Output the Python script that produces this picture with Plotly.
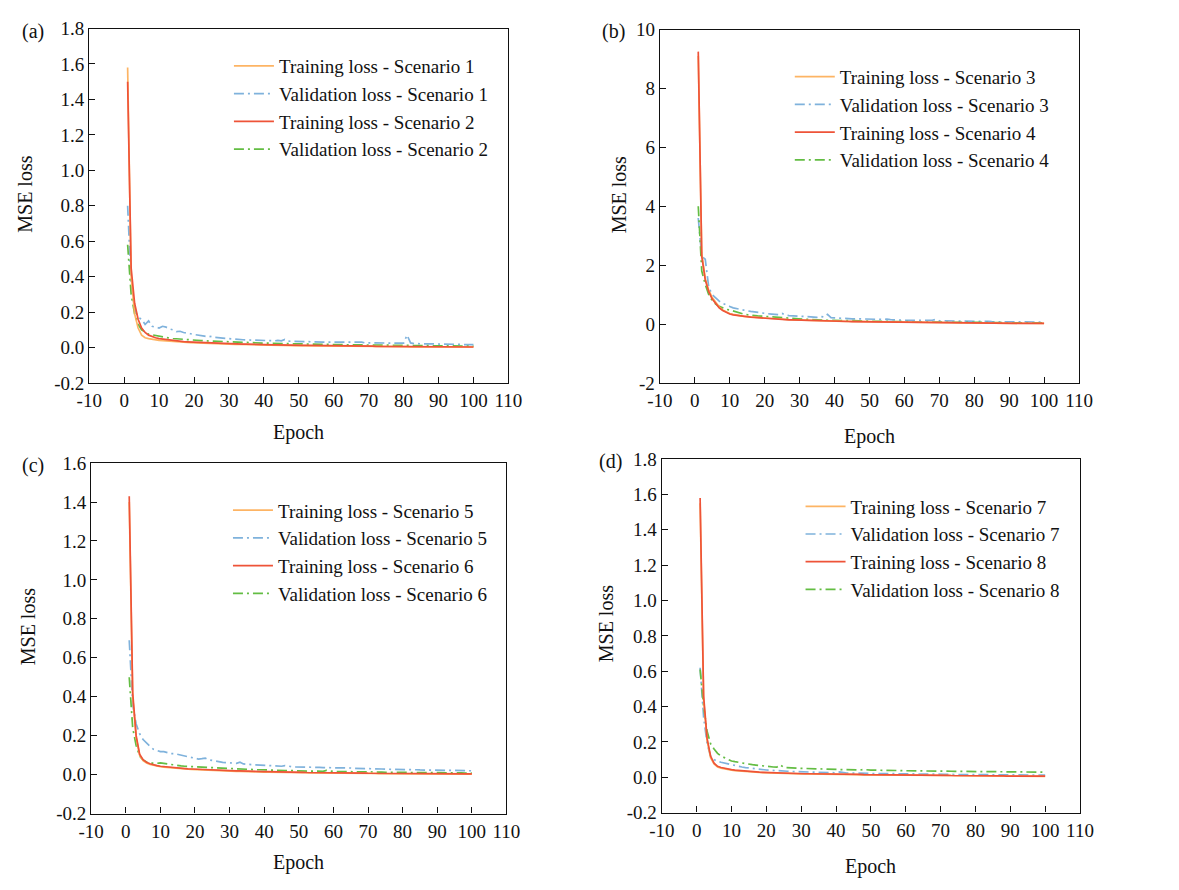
import plotly.graph_objects as go

# ---------------- data ----------------
epochs = list(range(1, 101))

# (a) scenarios 1 and 2
train_s1 = [1.58, 0.40, 0.19, 0.11, 0.070, 0.055, 0.050, 0.046, 0.043, 0.041,
            0.039, 0.037, 0.035, 0.034, 0.033, 0.031, 0.030, 0.029, 0.028, 0.027,
            0.026, 0.025, 0.024, 0.024, 0.023, 0.022, 0.021, 0.021, 0.020, 0.019,
            0.019, 0.018, 0.018, 0.017, 0.017, 0.016, 0.016, 0.015, 0.015, 0.014,
            0.014, 0.014, 0.013, 0.013, 0.012, 0.012, 0.012, 0.011, 0.011, 0.011,
            0.010, 0.010, 0.010, 0.010, 0.009, 0.009, 0.009, 0.009, 0.008, 0.008,
            0.008, 0.008, 0.008, 0.007, 0.007, 0.007, 0.007, 0.007, 0.006, 0.006,
            0.006, 0.006, 0.006, 0.006, 0.005, 0.005, 0.005, 0.005, 0.005, 0.005,
            0.005, 0.004, 0.004, 0.004, 0.004, 0.004, 0.004, 0.004, 0.004, 0.003,
            0.003, 0.003, 0.003, 0.003, 0.003, 0.003, 0.003, 0.003, 0.003, 0.003]
val_s1 = [0.80, 0.36, 0.22, 0.17, 0.16, 0.13, 0.15, 0.12, 0.115, 0.11,
          0.12, 0.115, 0.105, 0.10, 0.09, 0.092, 0.085, 0.083, 0.078, 0.074,
          0.072, 0.066, 0.064, 0.060, 0.063, 0.057, 0.055, 0.052, 0.050, 0.050,
          0.048, 0.047, 0.046, 0.044, 0.043, 0.042, 0.041, 0.041, 0.040, 0.040,
          0.039, 0.039, 0.038, 0.040, 0.038, 0.046, 0.036, 0.035, 0.035, 0.034,
          0.034, 0.033, 0.033, 0.032, 0.032, 0.031, 0.031, 0.030, 0.030, 0.029,
          0.029, 0.029, 0.028, 0.028, 0.030, 0.027, 0.027, 0.031, 0.026, 0.026,
          0.025, 0.025, 0.025, 0.024, 0.026, 0.024, 0.023, 0.024, 0.023, 0.025,
          0.070, 0.026, 0.022, 0.022, 0.021, 0.021, 0.021, 0.020, 0.020, 0.020,
          0.019, 0.019, 0.019, 0.018, 0.022, 0.018, 0.017, 0.017, 0.017, 0.016]
train_s2 = [1.50, 0.45, 0.25, 0.16, 0.11, 0.085, 0.070, 0.061, 0.055, 0.050,
            0.047, 0.044, 0.041, 0.039, 0.037, 0.035, 0.033, 0.032, 0.031, 0.030,
            0.029, 0.028, 0.027, 0.026, 0.025, 0.024, 0.023, 0.023, 0.022, 0.021,
            0.021, 0.020, 0.020, 0.019, 0.019, 0.018, 0.018, 0.017, 0.017, 0.016,
            0.016, 0.016, 0.015, 0.015, 0.014, 0.014, 0.014, 0.013, 0.013, 0.013,
            0.012, 0.012, 0.012, 0.011, 0.011, 0.011, 0.011, 0.010, 0.010, 0.010,
            0.010, 0.009, 0.009, 0.009, 0.009, 0.009, 0.008, 0.008, 0.008, 0.008,
            0.008, 0.007, 0.007, 0.007, 0.007, 0.007, 0.007, 0.006, 0.006, 0.006,
            0.006, 0.006, 0.006, 0.005, 0.005, 0.005, 0.005, 0.005, 0.005, 0.005,
            0.004, 0.004, 0.004, 0.004, 0.004, 0.004, 0.004, 0.004, 0.003, 0.003]
val_s2 = [0.58, 0.30, 0.19, 0.13, 0.10, 0.085, 0.075, 0.072, 0.068, 0.062,
          0.058, 0.056, 0.053, 0.051, 0.049, 0.047, 0.046, 0.044, 0.043, 0.042,
          0.040, 0.039, 0.038, 0.037, 0.036, 0.035, 0.034, 0.033, 0.032, 0.031,
          0.031, 0.030, 0.029, 0.029, 0.028, 0.027, 0.027, 0.026, 0.026, 0.025,
          0.025, 0.024, 0.024, 0.023, 0.023, 0.022, 0.022, 0.021, 0.021, 0.021,
          0.020, 0.020, 0.019, 0.019, 0.019, 0.018, 0.018, 0.018, 0.017, 0.017,
          0.017, 0.016, 0.016, 0.016, 0.015, 0.015, 0.015, 0.015, 0.014, 0.014,
          0.014, 0.014, 0.016, 0.013, 0.013, 0.013, 0.013, 0.012, 0.012, 0.012,
          0.012, 0.012, 0.011, 0.011, 0.011, 0.011, 0.011, 0.010, 0.010, 0.010,
          0.010, 0.010, 0.009, 0.009, 0.009, 0.009, 0.009, 0.009, 0.008, 0.008]

# (b) scenarios 3 and 4
train_s3 = [9.10, 2.40, 1.55, 1.15, 0.90, 0.72, 0.58, 0.48, 0.41, 0.36,
            0.33, 0.30, 0.28, 0.26, 0.25, 0.24, 0.23, 0.22, 0.21, 0.20,
            0.19, 0.185, 0.178, 0.170, 0.163, 0.156, 0.150, 0.145, 0.140, 0.135,
            0.130, 0.126, 0.122, 0.118, 0.114, 0.111, 0.108, 0.105, 0.102, 0.099,
            0.096, 0.094, 0.092, 0.090, 0.088, 0.086, 0.084, 0.082, 0.080, 0.078,
            0.076, 0.074, 0.072, 0.070, 0.068, 0.066, 0.064, 0.062, 0.060, 0.058,
            0.056, 0.055, 0.054, 0.053, 0.052, 0.051, 0.050, 0.049, 0.048, 0.047,
            0.046, 0.045, 0.044, 0.043, 0.042, 0.041, 0.040, 0.039, 0.038, 0.037,
            0.036, 0.035, 0.034, 0.033, 0.032, 0.031, 0.030, 0.029, 0.028, 0.027,
            0.026, 0.026, 0.025, 0.025, 0.024, 0.024, 0.023, 0.023, 0.022, 0.022]
val_s3 = [3.60, 2.30, 2.20, 1.25, 1.00, 0.88, 0.78, 0.70, 0.64, 0.60,
          0.55, 0.52, 0.50, 0.47, 0.45, 0.43, 0.41, 0.39, 0.37, 0.36,
          0.35, 0.34, 0.33, 0.32, 0.36, 0.30, 0.29, 0.28, 0.27, 0.26,
          0.26, 0.25, 0.24, 0.24, 0.23, 0.26, 0.24, 0.33, 0.22, 0.21,
          0.20, 0.20, 0.19, 0.19, 0.18, 0.18, 0.18, 0.17, 0.17, 0.17,
          0.16, 0.16, 0.16, 0.15, 0.17, 0.15, 0.14, 0.14, 0.14, 0.13,
          0.13, 0.13, 0.13, 0.12, 0.12, 0.12, 0.12, 0.13, 0.16, 0.11,
          0.11, 0.11, 0.11, 0.10, 0.10, 0.10, 0.10, 0.10, 0.09, 0.09,
          0.09, 0.09, 0.09, 0.09, 0.08, 0.08, 0.08, 0.08, 0.09, 0.08,
          0.08, 0.08, 0.07, 0.07, 0.07, 0.07, 0.07, 0.07, 0.07, 0.06]
train_s4 = [9.25, 2.30, 1.50, 1.10, 0.85, 0.68, 0.55, 0.46, 0.39, 0.34,
            0.31, 0.29, 0.27, 0.255, 0.245, 0.235, 0.225, 0.215, 0.205, 0.195,
            0.185, 0.178, 0.170, 0.163, 0.156, 0.150, 0.145, 0.140, 0.135, 0.130,
            0.126, 0.122, 0.118, 0.114, 0.111, 0.108, 0.105, 0.102, 0.099, 0.096,
            0.094, 0.092, 0.090, 0.088, 0.086, 0.084, 0.082, 0.080, 0.078, 0.076,
            0.074, 0.072, 0.070, 0.068, 0.066, 0.064, 0.062, 0.060, 0.058, 0.056,
            0.055, 0.054, 0.053, 0.052, 0.051, 0.050, 0.049, 0.048, 0.047, 0.046,
            0.045, 0.044, 0.043, 0.042, 0.041, 0.040, 0.039, 0.038, 0.037, 0.036,
            0.035, 0.034, 0.033, 0.032, 0.031, 0.030, 0.029, 0.028, 0.027, 0.026,
            0.026, 0.025, 0.025, 0.024, 0.024, 0.023, 0.023, 0.022, 0.022, 0.021]
val_s4 = [4.00, 1.80, 1.35, 1.00, 0.80, 0.68, 0.60, 0.55, 0.50, 0.48,
          0.44, 0.40, 0.37, 0.34, 0.32, 0.30, 0.29, 0.28, 0.27, 0.26,
          0.25, 0.24, 0.23, 0.22, 0.21, 0.20, 0.19, 0.19, 0.18, 0.17,
          0.17, 0.16, 0.16, 0.15, 0.15, 0.14, 0.14, 0.13, 0.13, 0.13,
          0.12, 0.12, 0.12, 0.11, 0.11, 0.11, 0.11, 0.10, 0.10, 0.10,
          0.10, 0.09, 0.09, 0.09, 0.09, 0.09, 0.08, 0.08, 0.08, 0.08,
          0.08, 0.08, 0.07, 0.07, 0.07, 0.07, 0.07, 0.07, 0.07, 0.06,
          0.06, 0.06, 0.06, 0.06, 0.06, 0.06, 0.06, 0.05, 0.05, 0.05,
          0.05, 0.05, 0.05, 0.05, 0.05, 0.05, 0.05, 0.05, 0.04, 0.04,
          0.04, 0.04, 0.04, 0.04, 0.04, 0.04, 0.04, 0.04, 0.04, 0.04]

# (c) scenarios 5 and 6
train_s5 = [1.40, 0.40, 0.19, 0.10, 0.072, 0.060, 0.053, 0.048, 0.044, 0.041,
            0.039, 0.037, 0.035, 0.033, 0.032, 0.030, 0.029, 0.028, 0.027, 0.026,
            0.025, 0.024, 0.023, 0.022, 0.022, 0.021, 0.020, 0.020, 0.019, 0.018,
            0.018, 0.017, 0.017, 0.016, 0.016, 0.015, 0.015, 0.014, 0.014, 0.013,
            0.013, 0.013, 0.012, 0.012, 0.012, 0.011, 0.011, 0.011, 0.010, 0.010,
            0.010, 0.010, 0.009, 0.009, 0.009, 0.009, 0.008, 0.008, 0.008, 0.008,
            0.008, 0.007, 0.007, 0.007, 0.007, 0.007, 0.006, 0.006, 0.006, 0.006,
            0.006, 0.006, 0.005, 0.005, 0.005, 0.005, 0.005, 0.005, 0.005, 0.004,
            0.004, 0.004, 0.004, 0.004, 0.004, 0.004, 0.004, 0.004, 0.003, 0.003,
            0.003, 0.003, 0.003, 0.003, 0.003, 0.003, 0.003, 0.003, 0.003, 0.003]
val_s5 = [0.69, 0.36, 0.26, 0.21, 0.18, 0.16, 0.145, 0.13, 0.122, 0.118,
          0.118, 0.112, 0.108, 0.108, 0.104, 0.098, 0.093, 0.090, 0.085, 0.082,
          0.080, 0.082, 0.085, 0.076, 0.072, 0.068, 0.065, 0.063, 0.062, 0.060,
          0.060, 0.058, 0.064, 0.055, 0.053, 0.052, 0.050, 0.049, 0.048, 0.047,
          0.046, 0.045, 0.046, 0.044, 0.043, 0.046, 0.042, 0.041, 0.040, 0.040,
          0.039, 0.039, 0.038, 0.038, 0.037, 0.037, 0.036, 0.036, 0.035, 0.035,
          0.034, 0.034, 0.033, 0.033, 0.034, 0.032, 0.032, 0.031, 0.031, 0.030,
          0.030, 0.029, 0.029, 0.029, 0.028, 0.028, 0.027, 0.027, 0.027, 0.026,
          0.026, 0.025, 0.025, 0.025, 0.024, 0.024, 0.024, 0.023, 0.023, 0.023,
          0.022, 0.022, 0.022, 0.022, 0.021, 0.021, 0.021, 0.021, 0.020, 0.020]
train_s6 = [1.43, 0.42, 0.20, 0.105, 0.077, 0.063, 0.056, 0.050, 0.046, 0.043,
            0.041, 0.039, 0.037, 0.035, 0.034, 0.032, 0.031, 0.030, 0.029, 0.028,
            0.027, 0.026, 0.025, 0.024, 0.024, 0.023, 0.022, 0.022, 0.021, 0.020,
            0.020, 0.019, 0.019, 0.018, 0.018, 0.017, 0.017, 0.016, 0.016, 0.015,
            0.015, 0.015, 0.014, 0.014, 0.014, 0.013, 0.013, 0.013, 0.012, 0.012,
            0.012, 0.011, 0.011, 0.011, 0.011, 0.010, 0.010, 0.010, 0.010, 0.009,
            0.009, 0.009, 0.009, 0.009, 0.008, 0.008, 0.008, 0.008, 0.008, 0.007,
            0.007, 0.007, 0.007, 0.007, 0.007, 0.006, 0.006, 0.006, 0.006, 0.006,
            0.006, 0.006, 0.005, 0.005, 0.005, 0.005, 0.005, 0.005, 0.005, 0.005,
            0.004, 0.004, 0.004, 0.004, 0.004, 0.004, 0.004, 0.004, 0.004, 0.004]
val_s6 = [0.50, 0.24, 0.15, 0.095, 0.075, 0.065, 0.060, 0.058, 0.058, 0.060,
          0.057, 0.053, 0.050, 0.048, 0.046, 0.045, 0.043, 0.042, 0.040, 0.039,
          0.038, 0.037, 0.036, 0.035, 0.034, 0.033, 0.032, 0.031, 0.031, 0.030,
          0.029, 0.029, 0.028, 0.027, 0.027, 0.026, 0.026, 0.025, 0.025, 0.024,
          0.024, 0.023, 0.023, 0.022, 0.022, 0.021, 0.021, 0.020, 0.020, 0.019,
          0.019, 0.019, 0.018, 0.018, 0.018, 0.017, 0.017, 0.022, 0.017, 0.016,
          0.016, 0.016, 0.015, 0.015, 0.015, 0.015, 0.014, 0.014, 0.014, 0.014,
          0.013, 0.013, 0.013, 0.013, 0.012, 0.012, 0.012, 0.012, 0.012, 0.011,
          0.011, 0.011, 0.011, 0.011, 0.010, 0.010, 0.010, 0.010, 0.010, 0.010,
          0.009, 0.009, 0.009, 0.009, 0.009, 0.009, 0.009, 0.008, 0.008, 0.008]

# (d) scenarios 7 and 8
train_s7 = [1.55, 0.44, 0.21, 0.11, 0.075, 0.058, 0.052, 0.047, 0.043, 0.040,
            0.037, 0.035, 0.033, 0.031, 0.030, 0.029, 0.028, 0.027, 0.026, 0.025,
            0.024, 0.024, 0.023, 0.022, 0.022, 0.021, 0.021, 0.020, 0.020, 0.019,
            0.019, 0.019, 0.018, 0.018, 0.018, 0.017, 0.017, 0.017, 0.016, 0.016,
            0.016, 0.016, 0.015, 0.015, 0.015, 0.015, 0.014, 0.014, 0.014, 0.014,
            0.014, 0.013, 0.013, 0.013, 0.013, 0.013, 0.012, 0.012, 0.012, 0.012,
            0.012, 0.011, 0.011, 0.011, 0.011, 0.011, 0.011, 0.010, 0.010, 0.010,
            0.010, 0.010, 0.010, 0.009, 0.009, 0.009, 0.009, 0.009, 0.008, 0.008,
            0.008, 0.008, 0.008, 0.008, 0.007, 0.007, 0.007, 0.007, 0.007, 0.007,
            0.007, 0.006, 0.006, 0.006, 0.006, 0.006, 0.006, 0.006, 0.005, 0.005]
val_s7 = [0.62, 0.34, 0.19, 0.12, 0.10, 0.090, 0.085, 0.080, 0.074, 0.070,
          0.066, 0.062, 0.058, 0.055, 0.052, 0.049, 0.047, 0.045, 0.043, 0.041,
          0.040, 0.038, 0.037, 0.036, 0.035, 0.034, 0.033, 0.032, 0.031, 0.031,
          0.030, 0.030, 0.029, 0.028, 0.028, 0.027, 0.027, 0.026, 0.026, 0.025,
          0.030, 0.025, 0.024, 0.024, 0.023, 0.023, 0.023, 0.022, 0.022, 0.022,
          0.021, 0.021, 0.021, 0.020, 0.020, 0.020, 0.020, 0.019, 0.019, 0.019,
          0.019, 0.018, 0.018, 0.018, 0.018, 0.018, 0.017, 0.017, 0.017, 0.017,
          0.017, 0.016, 0.016, 0.016, 0.016, 0.016, 0.016, 0.015, 0.015, 0.015,
          0.015, 0.015, 0.015, 0.014, 0.014, 0.014, 0.014, 0.014, 0.014, 0.013,
          0.013, 0.013, 0.013, 0.013, 0.013, 0.013, 0.012, 0.012, 0.012, 0.012]
train_s8 = [1.58, 0.46, 0.22, 0.12, 0.080, 0.062, 0.055, 0.050, 0.046, 0.043,
            0.040, 0.038, 0.036, 0.034, 0.032, 0.031, 0.030, 0.029, 0.028, 0.027,
            0.026, 0.025, 0.025, 0.024, 0.023, 0.023, 0.022, 0.022, 0.021, 0.021,
            0.020, 0.020, 0.020, 0.019, 0.019, 0.019, 0.018, 0.018, 0.018, 0.017,
            0.017, 0.017, 0.017, 0.016, 0.016, 0.016, 0.016, 0.015, 0.015, 0.015,
            0.015, 0.014, 0.014, 0.014, 0.014, 0.014, 0.013, 0.013, 0.013, 0.013,
            0.013, 0.012, 0.012, 0.012, 0.012, 0.012, 0.011, 0.011, 0.011, 0.011,
            0.011, 0.011, 0.010, 0.010, 0.012, 0.010, 0.010, 0.009, 0.009, 0.009,
            0.009, 0.009, 0.008, 0.008, 0.008, 0.008, 0.008, 0.008, 0.007, 0.007,
            0.007, 0.007, 0.007, 0.007, 0.006, 0.006, 0.006, 0.006, 0.006, 0.006]
val_s8 = [0.61, 0.40, 0.26, 0.19, 0.16, 0.135, 0.12, 0.11, 0.10, 0.092,
          0.088, 0.084, 0.080, 0.077, 0.074, 0.071, 0.069, 0.066, 0.064, 0.062,
          0.060, 0.058, 0.057, 0.070, 0.056, 0.054, 0.053, 0.052, 0.051, 0.050,
          0.050, 0.049, 0.048, 0.048, 0.047, 0.046, 0.046, 0.045, 0.045, 0.044,
          0.044, 0.043, 0.043, 0.042, 0.042, 0.042, 0.041, 0.044, 0.041, 0.040,
          0.040, 0.040, 0.039, 0.042, 0.039, 0.038, 0.038, 0.038, 0.037, 0.037,
          0.037, 0.036, 0.038, 0.036, 0.036, 0.035, 0.035, 0.035, 0.035, 0.034,
          0.034, 0.034, 0.034, 0.033, 0.035, 0.033, 0.033, 0.033, 0.032, 0.032,
          0.032, 0.032, 0.031, 0.031, 0.031, 0.031, 0.031, 0.030, 0.030, 0.030,
          0.030, 0.030, 0.030, 0.029, 0.029, 0.029, 0.029, 0.029, 0.029, 0.028]

x_tick_vals = [-10, 0, 10, 20, 30, 40, 50, 60, 70, 80, 90, 100, 110]
x_tick_text = ["-10", "0", "10", "20", "30", "40", "50", "60", "70", "80", "90", "100", "110"]
y_ticks_a = [-0.2, 0.0, 0.2, 0.4, 0.6, 0.8, 1.0, 1.2, 1.4, 1.6, 1.8]
y_text_a = ["-0.2", "0.0", "0.2", "0.4", "0.6", "0.8", "1.0", "1.2", "1.4", "1.6", "1.8"]
y_ticks_b = [-2, 0, 2, 4, 6, 8, 10]
y_text_b = ["-2", "0", "2", "4", "6", "8", "10"]
y_ticks_c = [-0.2, 0.0, 0.2, 0.4, 0.6, 0.8, 1.0, 1.2, 1.4, 1.6]
y_text_c = ["-0.2", "0.0", "0.2", "0.4", "0.6", "0.8", "1.0", "1.2", "1.4", "1.6"]
y_ticks_d = y_ticks_a
y_text_d = y_text_a

# ---------------- styling ----------------
FONT = "Liberation Serif, Times New Roman, serif"
FS = 19
FS_TITLE = 20
C_TRAIN_A = "rgba(253,176,92,0.95)"
C_VAL_A = "#7fb2dc"
C_TRAIN_B = "#ee5338"
C_VAL_B = "#63bd43"
DASHDOT = "10px,4px,2px,4px"

W, H = 1179, 890


def px_x(v):
    return v / W


def px_y(v):
    return 1 - v / H


# panel boxes in pixels: (left, right, top, bottom)
panels = [
    dict(box=(78, 507, 19, 382), yr=(-0.2, 1.8), yt=(y_ticks_a, y_text_a),
         series=[(train_s1, val_s1, 1), (train_s2, val_s2, 2)],
         label="(a)", lab_xy=(7, 22), leg_xy=(221, 38), ytitle_x=12, xtitle_y=433),
    dict(box=(662, 1091, 20, 382), yr=(-2, 10), yt=(y_ticks_b, y_text_b),
         series=[(train_s3, val_s3, 3), (train_s4, val_s4, 4)],
         label="(b)", lab_xy=(601, 22), leg_xy=(795, 49), ytitle_x=620, xtitle_y=437),
    dict(box=(80, 505, 464, 823), yr=(-0.2, 1.6), yt=(y_ticks_c, y_text_c),
         series=[(train_s5, val_s5, 5), (train_s6, val_s6, 6)],
         label="(c)", lab_xy=(7, 466), leg_xy=(220, 493), ytitle_x=15, xtitle_y=873),
    dict(box=(664, 1092, 460, 822), yr=(-0.2, 1.8), yt=(y_ticks_d, y_text_d),
         series=[(train_s7, val_s7, 7), (train_s8, val_s8, 8)],
         label="(d)", lab_xy=(598, 462), leg_xy=(806, 489), ytitle_x=607, xtitle_y=877),
]

fig = go.Figure()
layout = dict(width=W, height=H, margin=dict(l=0, r=0, t=0, b=0),
              paper_bgcolor="white", plot_bgcolor="white",
              font=dict(family=FONT, size=FS, color="#111"),
              annotations=[])

for i, p in enumerate(panels):
    n = i + 1
    xa = "x" if n == 1 else f"x{n}"
    ya = "y" if n == 1 else f"y{n}"
    leg = "legend" if n == 1 else f"legend{n}"
    (sa_tr, sa_va, ka), (sb_tr, sb_va, kb) = p["series"]
    traces = [
        (sa_tr, f"Training loss - Scenario {ka}", C_TRAIN_A, "solid"),
        (sa_va, f"Validation loss - Scenario {ka}", C_VAL_A, DASHDOT),
        (sb_tr, f"Training loss - Scenario {kb}", C_TRAIN_B, "solid"),
        (sb_va, f"Validation loss - Scenario {kb}", C_VAL_B, DASHDOT),
    ]
    # draw order: validation first, training on top
    order = [1, 3, 0, 2]
    for j in order:
        ys, name, col, dash = traces[j]
        fig.add_trace(go.Scatter(
            x=epochs, y=ys, mode="lines", name=name, xaxis=xa, yaxis=ya,
            legend=leg, legendrank=j + 1,
            line=dict(color=col, width=1.7, dash=dash)))

    l, r, t, b = p["box"]
    axcommon = dict(showline=True, linecolor="#111", linewidth=1.3, mirror=True,
                    ticks="inside", ticklen=6, tickwidth=1.2, tickcolor="#111",
                    showgrid=False, zeroline=False,
                    tickfont=dict(family=FONT, size=FS, color="#111"))
    layout["xaxis" if n == 1 else f"xaxis{n}"] = dict(
        axcommon, domain=[px_x(l), px_x(r)], range=[-10, 110],
        tickvals=x_tick_vals, ticktext=x_tick_text, anchor=ya)
    layout["yaxis" if n == 1 else f"yaxis{n}"] = dict(
        axcommon, domain=[px_y(b), px_y(t)], range=list(p["yr"]),
        tickvals=p["yt"][0], ticktext=p["yt"][1], anchor=xa)

    lx, ly = p["leg_xy"]
    layout[leg] = dict(x=px_x(lx), y=px_y(ly), xanchor="left", yanchor="top",
                       bgcolor="rgba(0,0,0,0)", borderwidth=0,
                       font=dict(family=FONT, size=FS, color="#111"),
                       tracegroupgap=0, itemwidth=40, traceorder="normal")

    layout["annotations"].append(dict(
        text=p["label"], x=px_x(p["lab_xy"][0]), y=px_y(p["lab_xy"][1]),
        xref="paper", yref="paper", xanchor="left", yanchor="middle",
        showarrow=False, font=dict(family=FONT, size=FS_TITLE, color="#111")))
    layout["annotations"].append(dict(
        text="Epoch", x=px_x((l + r) / 2), y=px_y(p["xtitle_y"]),
        xref="paper", yref="paper", xanchor="center", yanchor="middle",
        showarrow=False, font=dict(family=FONT, size=FS_TITLE, color="#111")))
    layout["annotations"].append(dict(
        text="MSE loss", x=px_x(p["ytitle_x"]), y=px_y((t + b) / 2 - 12),
        xref="paper", yref="paper", xanchor="center", yanchor="middle",
        textangle=-90, showarrow=False,
        font=dict(family=FONT, size=FS_TITLE, color="#111")))

fig.update_layout(**layout)
fig.write_html("out.html")
